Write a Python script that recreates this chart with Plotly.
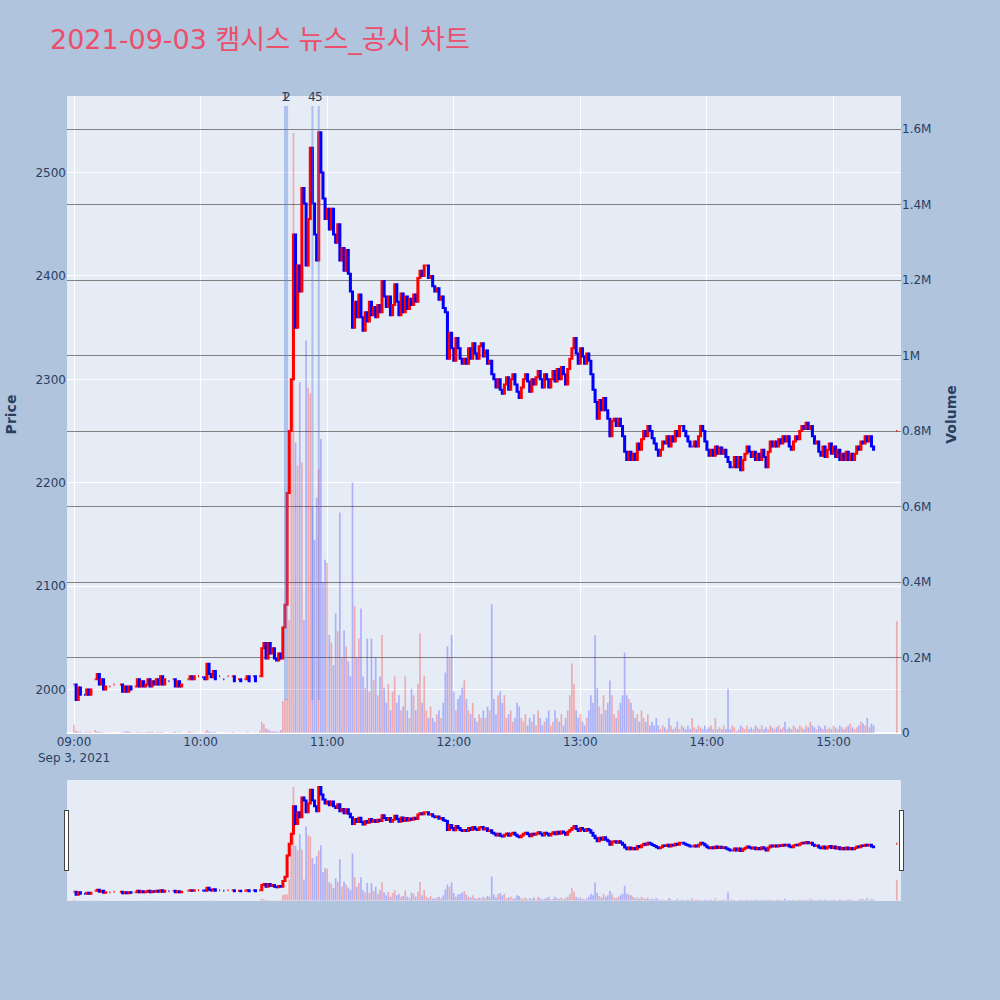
import pandas as pd
import plotly.graph_objects as go
from plotly.subplots import make_subplots

TITLE = "2021-09-03 캠시스 뉴스_공시 차트"
SESSION_START = "2021-09-03 09:00"

# closing price per minute after 09:00 (None = no trade in that minute)
closes = [
    2005, 1990, 2002, 1995, None, 1995, 2000, 1995, 2000, None,
    2010, 2015, 2005, 2010, 2000, 2003, None, 2003, None, 2005,
    None, None, 2005, 1998, 2003, 1998, 2003, 2000, None, 2003,
    2010, 2003, 2008, 2003, 2005, 2010, 2003, 2008, 2005, 2010,
    2005, 2013, 2005, 2010, None, 2008, None, 2010, 2003, 2008,
    2003, 2005, None, None, 2010, 2013, 2010, 2013, None, 2013,
    None, 2012, 2010, 2025, 2015, 2012, 2018, 2010, None, 2013,
    None, 2010, None, 2013, None, 2013, 2008, None, 2010, 2008,
    None, 2010, 2013, 2008, None, 2013, 2008, None, 2013, 2040,
    2045, 2030, 2045, 2035, 2040, 2030, 2028, 2035, 2030, 2060,
    2082, 2190, 2250, 2300, 2440, 2350, 2410, 2385, 2485, 2470,
    2410, 2455, 2524, 2470, 2440, 2415, 2539, 2500, 2475, 2455,
    2465, 2445, 2465, 2440, 2432, 2450, 2415, 2427, 2405, 2425,
    2402, 2385, 2350, 2375, 2360, 2382, 2360, 2347, 2365, 2356,
    2375, 2362, 2370, 2360, 2372, 2365, 2395, 2380, 2370, 2380,
    2362, 2372, 2392, 2375, 2362, 2383, 2365, 2380, 2368, 2378,
    2372, 2382, 2375, 2398, 2405, 2400, 2410, 2410, 2398, 2400,
    2390, 2385, 2388, 2377, 2380, 2369, 2365, 2320, 2345, 2330,
    2318, 2340, 2330, 2320, 2315, 2320, 2315, 2330, 2320, 2335,
    2325, 2320, 2332, 2335, 2322, 2328, 2315, 2318, 2305, 2300,
    2292, 2300, 2290, 2286, 2295, 2302, 2290, 2300, 2305, 2295,
    2288, 2282, 2292, 2300, 2305, 2298, 2288, 2300, 2295, 2302,
    2308, 2300, 2292, 2305, 2300, 2292, 2300, 2308, 2298, 2310,
    2300, 2312, 2305, 2295, 2310, 2320, 2330, 2340, 2325, 2315,
    2330, 2322, 2315, 2325, 2318, 2305, 2290, 2278, 2262, 2280,
    2270, 2282, 2270, 2262, 2245, 2260, 2262, 2255, 2262, 2255,
    2245, 2230, 2222, 2230, 2222, 2228, 2222, 2238, 2232, 2242,
    2250, 2245, 2255, 2250, 2243, 2238, 2232, 2226, 2232, 2240,
    2238, 2245, 2235, 2245, 2240, 2250, 2245, 2255, 2255, 2250,
    2245, 2240, 2235, 2235, 2240, 2235, 2245, 2255, 2250, 2240,
    2232, 2226, 2232, 2226, 2235, 2228, 2234, 2228, 2232, 2225,
    2220, 2215, 2215, 2225, 2215, 2225, 2212, 2222, 2228, 2235,
    2230, 2225, 2230, 2222, 2228, 2222, 2232, 2225, 2215, 2230,
    2240, 2235, 2240, 2235, 2242, 2238, 2245, 2240, 2245, 2235,
    2232, 2240, 2245, 2242, 2250, 2255, 2252, 2258, 2252, 2255,
    2245, 2238, 2240, 2230, 2226, 2235, 2225, 2232, 2238, 2228,
    2235, 2225, 2232, 2222, 2228, 2222, 2230, 2222, 2228, 2222,
    2228, 2235, 2232, 2240, 2238, 2245, 2240, 2245, 2235, 2232,
    None, None, None, None, None, None, None, None, None, None,
    2250,
]

# traded volume per minute, in thousands of shares
volumes_k = [
    22, 6, 3, 4, 0, 2, 3, 2, 3, 0,
    8, 5, 3, 2, 2, 1, 0, 1, 0, 1,
    0, 0, 1, 2, 4, 5, 3, 2, 0, 1,
    3, 2, 2, 1, 2, 3, 2, 4, 1, 2,
    2, 3, 2, 1, 0, 1, 0, 2, 3, 1,
    2, 1, 0, 0, 2, 4, 1, 2, 0, 1,
    0, 1, 2, 8, 4, 2, 3, 2, 0, 1,
    0, 1, 0, 1, 0, 2, 2, 0, 1, 1,
    0, 1, 2, 1, 0, 1, 1, 0, 6, 30,
    24, 12, 10, 6, 5, 4, 4, 3, 8, 85,
    90, 90, 300, 797, 1590, 770, 709, 930, 717, 300,
    1040, 915, 900, 600, 512, 624, 700, 779, 400, 459,
    451, 260, 240, 180, 317, 270, 584, 200, 272, 230,
    190, 150, 664, 336, 200, 250, 330, 150, 120, 250,
    110, 250, 140, 200, 100, 150, 260, 120, 80, 130,
    60, 110, 150, 80, 100, 60, 70, 150, 60, 40,
    117, 100, 60, 130, 264, 80, 152, 60, 40, 70,
    40, 30, 50, 60, 40, 80, 160, 230, 200, 260,
    110, 60, 90, 100, 120, 140, 90, 60, 50, 80,
    40, 30, 50, 40, 60, 40, 70, 60, 341, 90,
    50, 100, 110, 80, 100, 40, 50, 60, 30, 40,
    80, 70, 40, 30, 50, 20, 40, 30, 50, 20,
    60, 40, 20, 30, 40, 60, 20, 30, 60, 40,
    30, 50, 20, 40, 60, 100, 184, 130, 60, 40,
    50, 30, 20, 40, 60, 100, 80, 259, 120, 70,
    50, 100, 60, 80, 139, 100, 50, 40, 60, 80,
    100, 213, 100, 90, 80, 60, 40, 50, 30, 60,
    40, 30, 50, 20, 30, 20, 40, 20, 10, 20,
    15, 10, 40, 20, 10, 15, 30, 10, 20, 15,
    10, 20, 10, 40, 15, 10, 20, 15, 10, 20,
    10, 15, 20, 10, 40, 10, 15, 10, 20, 10,
    117, 10, 20, 15, 5, 10, 20, 15, 10, 20,
    10, 15, 10, 20, 15, 10, 20, 10, 15, 10,
    20, 15, 10, 15, 20, 10, 15, 30, 10, 15,
    10, 20, 15, 10, 20, 15, 10, 20, 15, 30,
    20, 15, 10, 20, 15, 10, 20, 10, 15, 10,
    20, 15, 10, 20, 15, 10, 15, 20, 25, 15,
    10, 15, 20, 30, 25, 20, 40, 15, 25, 20,
    0, 0, 0, 0, 0, 0, 0, 0, 0, 0,
    296,
]

# news / disclosure markers (minute after 09:00, label)
news_minutes = [100, 101, 113, 116]
news_labels = ["1", "2", "4", "5"]

price_range = [1958, 2574]
x_range = ["2021-09-03 08:56:40", "2021-09-03 15:32:00"]
vol_tickvals = [0, 200000, 400000, 600000, 800000, 1000000, 1200000, 1400000, 1600000]
vol_ticktext = ["0", "0.2M", "0.4M", "0.6M", "0.8M", "1M", "1.2M", "1.4M", "1.6M"]
vol_range = [0, 1688000]

base = pd.Timestamp(SESSION_START)
t, o, h, l, c, v = [], [], [], [], [], []
prev = None
for m, (cl, vk) in enumerate(zip(closes, volumes_k)):
    if cl is None:
        prev = None
        continue
    op = prev if prev is not None else cl
    t.append(base + pd.Timedelta(minutes=m))
    o.append(op)
    c.append(cl)
    h.append(max(op, cl))
    l.append(min(op, cl))
    v.append(vk * 1000)
    prev = cl

vol_colors = ["rgba(255,0,0,0.28)" if cc >= oo else "rgba(0,0,255,0.25)" for oo, cc in zip(o, c)]

fig = make_subplots(specs=[[{"secondary_y": True}]])

fig.add_trace(go.Candlestick(
    x=t, open=o, high=h, low=l, close=c,
    increasing=dict(line=dict(color="red"), fillcolor="red"),
    decreasing=dict(line=dict(color="blue"), fillcolor="blue"),
    showlegend=False, name="Price"), secondary_y=False)

fig.add_trace(go.Bar(x=t, y=v, marker=dict(color=vol_colors, line=dict(width=0)),
                     showlegend=False, name="Volume"), secondary_y=True)

# news markers: vertical lines spanning the day's price range, numbered on top
lo, hi = min(l), max(h) * 1.01
for nm, lab in zip(news_minutes, news_labels):
    nt = base + pd.Timedelta(minutes=nm)
    fig.add_shape(type="line", xref="x", yref="y", x0=nt, x1=nt, y0=lo, y1=hi,
                  line=dict(color="rgba(90,125,230,0.4)", width=2), layer="above")
    fig.add_annotation(x=nt, y=hi, xref="x", yref="y", text=lab, showarrow=False,
                       yanchor="bottom", xanchor="center",
                       font=dict(size=12, color="#2a3f5f", family="DejaVu Sans"))

fig.update_layout(
    width=1000, height=1000,
    paper_bgcolor="lightsteelblue",
    plot_bgcolor="#E5ECF6",
    font=dict(family="DejaVu Sans", size=12, color="#2a3f5f"),
    title=dict(text=TITLE, x=0.05, xanchor="left", y=0.96, yanchor="middle",
               font=dict(family="DejaVu Sans, Noto Sans CJK KR", size=27, color="#EB4F6A")),
    margin=dict(l=67, r=99, t=96, b=100),
    showlegend=False,
    bargap=0.2,
)
fig.update_xaxes(type="date", range=x_range, domain=[0, 1], showgrid=True, gridcolor="white",
                 automargin=False, rangeslider=dict(visible=True, bgcolor="#E5ECF6"))
fig.update_yaxes(title_text="Price", title_font=dict(size=14, weight="bold"), automargin=False,
                 range=price_range, gridcolor="white", secondary_y=False)
fig.update_yaxes(title_text="Volume", title_font=dict(size=14, weight="bold"), automargin=False,
                 range=vol_range, tickvals=vol_tickvals, ticktext=vol_ticktext,
                 gridcolor="gray", showgrid=True, secondary_y=True)

fig.write_html("out.html", config={"displayModeBar": False},
               post_script="document.body.style.margin='0';")
